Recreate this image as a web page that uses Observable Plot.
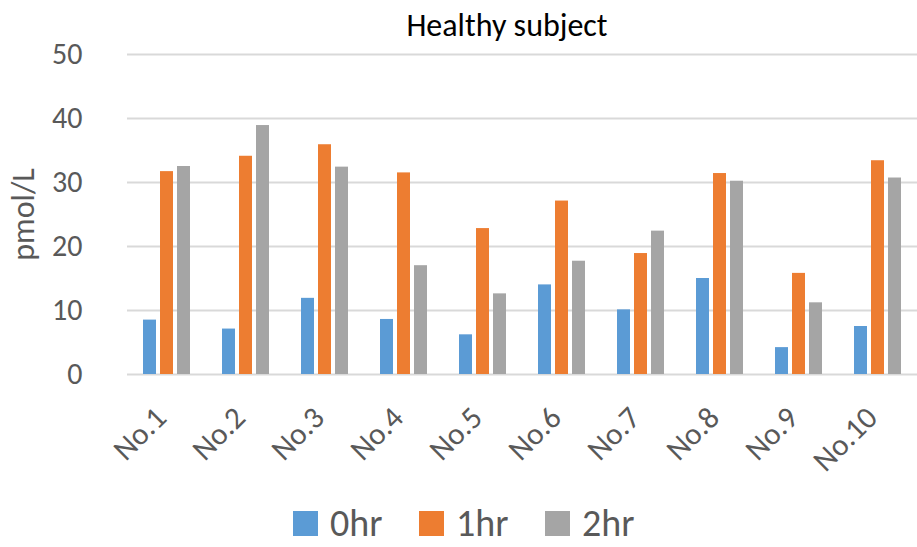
<!DOCTYPE html>
<html>
<head>
<meta charset="utf-8">
<script src="https://cdn.jsdelivr.net/npm/d3@7"></script>
<script src="https://cdn.jsdelivr.net/npm/@observablehq/plot@0.6"></script>
<style>
  html, body { margin: 0; padding: 0; background: #fff; overflow: hidden; }
  #wrap { width: 917px; height: 547px; position: relative; font-family: Carlito, "Open Sans", sans-serif; }
  #title { position: absolute; left: 0; top: 0; box-sizing: border-box; width: 917px; padding-top: 10px; padding-left: 97px;
           font-size: 32px; line-height: 32px; text-align: center; color: #000; }
  #chart { padding-top: 30px; }
  #legend { display: flex; align-items: baseline; padding-left: 293px; padding-top: 14px;
            font-size: 38px; line-height: 38px; color: #595959; }
  #legend .sw { width: 25px; height: 25px; display: inline-block; margin-right: 12px; }
  #legend .item { display: flex; align-items: baseline; width: 126px; }
</style>
</head>
<body>
<div id="wrap">
  <div id="title"></div>
  <div id="chart"></div>
  <div id="legend"></div>
</div>
<script>
const chartTitle = "Healthy subject";
const yLabel = "pmol/L";
const subjects = ["No.1","No.2","No.3","No.4","No.5","No.6","No.7","No.8","No.9","No.10"];
const series = ["0hr","1hr","2hr"];
const colors = ["#5B9BD5","#ED7D31","#A5A5A5"];
const hr0 = [8.5, 7.1, 11.9, 8.6, 6.2, 14.0, 10.1, 15.0, 4.2, 7.5];
const hr1 = [31.7, 34.1, 35.9, 31.5, 22.8, 27.1, 18.9, 31.4, 15.8, 33.4];
const hr2 = [32.5, 38.9, 32.4, 17.0, 12.6, 17.7, 22.4, 30.2, 11.2, 30.7];
const yTicks = [0, 10, 20, 30, 40, 50];

const seriesValues = [hr0, hr1, hr2];
const data = [];
subjects.forEach((s, i) => {
  series.forEach((t, j) => data.push({subject: s, time: t, value: seriesValues[j][i]}));
});

document.getElementById("title").textContent = chartTitle;

const font = 'Carlito, "Open Sans", sans-serif';
const chart = Plot.plot({
  width: 917,
  height: 460,
  marginTop: 24,
  marginBottom: 116,
  marginLeft: 123,
  marginRight: -4,
  style: {fontFamily: font, background: "#fff"},
  fx: {domain: subjects, padding: 0, label: null},
  x: {domain: series, paddingInner: 0.22, paddingOuter: 0.845, axis: null},
  y: {domain: [0, 50]},
  color: {domain: series, range: colors},
  marks: [
    Plot.gridY(yTicks, {stroke: "#D9D9D9", strokeOpacity: 1, strokeWidth: 2}),
    Plot.barY(data, {fx: "subject", x: "time", y: "value", fill: "time"}),
    Plot.axisY(yTicks, {tickSize: 0, tickPadding: 45, fontSize: 30, color: "#595959", label: null}),
    Plot.axisY([], {tickSize: 0, fontSize: 32, color: "#595959",
      label: yLabel, labelAnchor: "center", labelArrow: "none", labelOffset: 116}),
    Plot.axisFx({anchor: "bottom", tickRotate: -45, tickSize: 0, tickPadding: 38, dx: -6,
      fontSize: 31, color: "#595959", label: null})
  ]
});
document.getElementById("chart").appendChild(chart);

const legend = document.getElementById("legend");
series.forEach((s, j) => {
  const item = document.createElement("div");
  item.className = "item";
  const sw = document.createElement("span");
  sw.className = "sw";
  sw.style.background = colors[j];
  const tx = document.createElement("span");
  tx.textContent = s;
  item.appendChild(sw);
  item.appendChild(tx);
  legend.appendChild(item);
});
</script>
</body>
</html>
